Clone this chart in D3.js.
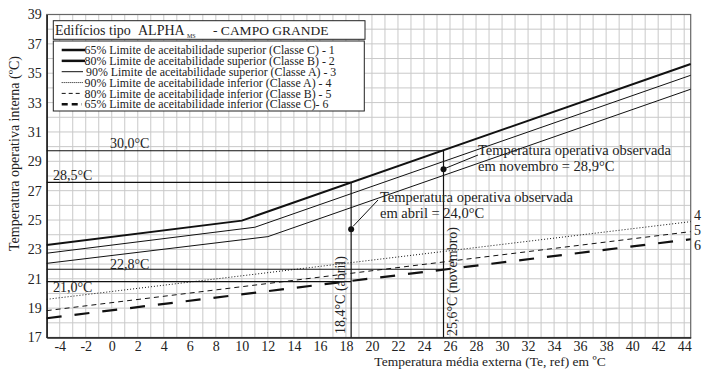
<!DOCTYPE html>
<html>
<head>
<meta charset="utf-8">
<script src="https://cdnjs.cloudflare.com/ajax/libs/d3/7.8.5/d3.min.js"></script>
<style>
  body { margin: 0; background: #fff; }
  text { font-family: "Liberation Serif", "Times New Roman", serif !important; fill: #222; }
</style>
</head>
<body>
<svg id="chart"></svg>
<script>
// Chart size
const width = 703;
const height = 369;

// Axis domains and tick labels
const xDomain = [-5, 44.5];
const yDomain = [17, 39];
const xTicks = d3.range(-4, 45, 2);
const yTicks = d3.range(17, 40, 2);

// Limit lines [Te,ref, temperature]
const sup65 = [[-5, 23.30], [10, 24.96], [44.5, 35.63]];
const sup80 = [[-5, 22.74], [11, 24.51], [44.5, 34.86]];
const sup90 = [[-5, 22.05], [12, 23.87], [44.5, 33.91]];
const inf90 = [[-5, 19.60], [44.5, 24.89]];
const inf80 = [[-5, 18.83], [44.5, 24.21]];
const inf65 = [[-5, 18.31], [44.5, 23.69]];

// Reference lines (as drawn) and their labels
const refTe = [18.4, 25.5];
const refTeLabels = ["18,4°C (abril)", "25,6°C (novembro)"];
const refTop = [29.72, 27.57];      // upper reference temperatures
const refTopLabels = ["30,0°C", "28,5°C"];
const refBottom = [21.65, 20.80];   // lower reference temperatures
const refBottomLabels = ["22,8°C", "21,0°C"];

// Observed operative temperatures
const observed = [[18.4, 24.37], [25.5, 28.46]];

const legendLabels = [
  "65% Limite de aceitabilidade superior (Classe C) - 1",
  "80% Limite de aceitabilidade superior (Classe B) - 2",
  "90% Limite de aceitabilidade superior (Classe A) - 3",
  "90% Limite de aceitabilidade inferior (Classe A) - 4",
  "80% Limite de aceitabilidade inferior (Classe B) - 5",
  "65% Limite de aceitabilidade inferior (Classe C)- 6"
];

const svg = d3.select("#chart")
  .attr("width", width)
  .attr("height", height);

const x = d3.scaleLinear().domain(xDomain).range([46.7, 690.7]);
const y = d3.scaleLinear().domain(yDomain).range([337.5, 14.5]);

// grid every 1 degree
const grid = svg.append("g").attr("stroke", "#c9c9c9").attr("stroke-width", 1);
grid.selectAll("line.v")
  .data(d3.range(-4, 45, 1))
  .enter().append("line")
  .attr("x1", d => x(d)).attr("x2", d => x(d))
  .attr("y1", y(17)).attr("y2", y(39));
grid.selectAll("line.h")
  .data(d3.range(18, 39, 1))
  .enter().append("line")
  .attr("x1", x(-5)).attr("x2", x(44.5))
  .attr("y1", d => y(d)).attr("y2", d => y(d));

// frame
svg.append("rect")
  .attr("x", x(-5)).attr("y", y(39))
  .attr("width", x(44.5) - x(-5)).attr("height", y(17) - y(39))
  .attr("fill", "none").attr("stroke", "#666").attr("stroke-width", 1.2);

// axes (plain hyphen for negatives, as in the original)
const fmt = d => String(d);
svg.append("g")
  .attr("transform", `translate(0,${y(17)})`)
  .call(d3.axisBottom(x).tickValues(xTicks).tickSize(0).tickPadding(4).tickFormat(fmt))
  .call(g => g.select(".domain").attr("stroke", "#222").attr("stroke-width", 1.5))
  .selectAll("text").attr("font-size", 14).attr("fill", "#222");

svg.append("g")
  .attr("transform", `translate(${x(-5)},0)`)
  .call(d3.axisLeft(y).tickValues(yTicks).tickSize(0).tickPadding(5).tickFormat(fmt))
  .call(g => g.select(".domain").attr("stroke", "#222").attr("stroke-width", 1.5))
  .selectAll("text").attr("font-size", 14).attr("fill", "#222");

// axis titles
svg.append("text")
  .attr("transform", `translate(14,153.5) rotate(-90)`)
  .attr("text-anchor", "middle").attr("dy", "0.35em")
  .attr("font-size", 14)
  .text("Temperatura operativa interna (ºC)");

svg.append("text")
  .attr("x", 490).attr("y", 361).attr("dy", "0.35em")
  .attr("text-anchor", "middle").attr("font-size", 13.5)
  .text("Temperatura média externa (Te, ref) em ºC");

// reference lines
const ref = svg.append("g").attr("stroke", "#111").attr("stroke-width", 1.2);
refTop.forEach((t, i) => {
  ref.append("line").attr("x1", x(-5)).attr("x2", x(refTe[1 - i]))
    .attr("y1", y(t)).attr("y2", y(t));
});
refBottom.forEach((t, i) => {
  ref.append("line").attr("x1", x(-5)).attr("x2", x(refTe[1 - i]))
    .attr("y1", y(t)).attr("y2", y(t));
});
refTe.forEach((te, i) => {
  ref.append("line").attr("x1", x(te)).attr("x2", x(te))
    .attr("y1", y(refTop[1 - i])).attr("y2", y(17));
});

// limit lines
const line = d3.line().x(d => x(d[0])).y(d => y(d[1]));
const series = [
  { data: sup65, w: 2, dash: null },
  { data: sup80, w: 1, dash: null },
  { data: sup90, w: 1, dash: null },
  { data: inf90, w: 1, dash: "1,2" },
  { data: inf80, w: 1, dash: "5,4" },
  { data: inf65, w: 2.2, dash: "15,13" }
];
svg.append("g").selectAll("path")
  .data(series)
  .enter().append("path")
  .attr("d", d => line(d.data))
  .attr("fill", "none")
  .attr("stroke", "#111")
  .attr("stroke-width", d => d.w)
  .attr("stroke-dasharray", d => d.dash);

// reference labels
svg.append("text").attr("x", 110).attr("y", 143.3).attr("dy", "0.35em")
  .attr("font-size", 14).text(refTopLabels[0]);
svg.append("text").attr("x", 53).attr("y", 175).attr("dy", "0.35em")
  .attr("font-size", 14).text(refTopLabels[1]);
svg.append("text").attr("x", 110).attr("y", 264.3).attr("dy", "0.35em")
  .attr("font-size", 14).text(refBottomLabels[0]);
svg.append("text").attr("x", 53).attr("y", 287.3).attr("dy", "0.35em")
  .attr("font-size", 14).text(refBottomLabels[1]);

svg.append("text")
  .attr("transform", `translate(${x(refTe[0]) - 11},334) rotate(-90)`)
  .attr("dy", "0.35em").attr("font-size", 14).text(refTeLabels[0]);
svg.append("text")
  .attr("transform", `translate(${x(refTe[1]) + 9},336) rotate(-90)`)
  .attr("dy", "0.35em").attr("font-size", 14).text(refTeLabels[1]);

// observed points with leaders
svg.append("g").selectAll("circle")
  .data(observed)
  .enter().append("circle")
  .attr("cx", d => x(d[0])).attr("cy", d => y(d[1]))
  .attr("r", 3).attr("fill", "#111");

svg.append("line")
  .attr("x1", x(observed[0][0]) + 2).attr("y1", y(observed[0][1]) - 3)
  .attr("x2", 378).attr("y2", 200)
  .attr("stroke", "#111").attr("stroke-width", 1);
svg.append("line")
  .attr("x1", x(observed[1][0]) + 2).attr("y1", y(observed[1][1]) - 1)
  .attr("x2", 478).attr("y2", 155)
  .attr("stroke", "#111").attr("stroke-width", 1);

const ann = [
  { x: 380, y: 196.7, t: "Temperatura operativa observada" },
  { x: 380, y: 213.3, t: "em abril = 24,0°C" },
  { x: 478, y: 150, t: "Temperatura operativa observada" },
  { x: 478, y: 166, t: "em novembro = 28,9°C" }
];
svg.append("g").selectAll("text")
  .data(ann)
  .enter().append("text")
  .attr("x", d => d.x).attr("y", d => d.y).attr("dy", "0.35em")
  .attr("font-size", 14.5)
  .text(d => d.t);

// right-hand line numbers
const rightNums = ["4", "5", "6"];
svg.append("g").selectAll("text")
  .data(rightNums)
  .enter().append("text")
  .attr("x", 694).attr("y", (d, i) => 215 + i * 15).attr("dy", "0.35em")
  .attr("font-size", 14)
  .text(d => d);

// title box
svg.append("rect").attr("x", 53.3).attr("y", 20.7).attr("width", 311.7).attr("height", 18.6)
  .attr("fill", "#fff").attr("stroke", "#222").attr("stroke-width", 1);
const title = svg.append("text").attr("x", 55).attr("y", 30).attr("dy", "0.35em")
  .attr("font-size", 14);
title.append("tspan").text("Edifícios tipo");
title.append("tspan").attr("x", 138).text("ALPHA");
title.append("tspan").attr("x", 187).attr("font-size", 6).attr("dy", 3).text("MS");
title.append("tspan").attr("x", 213).attr("dy", -3).attr("font-size", 13.5).text("- CAMPO GRANDE");

// legend
svg.append("rect").attr("x", 53.3).attr("y", 41).attr("width", 311).attr("height", 70)
  .attr("fill", "#fff").attr("stroke", "#222").attr("stroke-width", 1);
const legendStyle = [
  { w: 2.5, dash: null, x2: 85 },
  { w: 2.5, dash: null, x2: 85 },
  { w: 1, dash: null, x2: 83 },
  { w: 1, dash: "1,1", x2: 83 },
  { w: 1, dash: "4,3", x2: 80 },
  { w: 2.5, dash: "6,4", x2: 82 }
];
const leg = svg.append("g");
legendLabels.forEach((lab, i) => {
  const yy = 50 + i * 10.85;
  leg.append("line").attr("x1", 61.7).attr("x2", legendStyle[i].x2)
    .attr("y1", yy).attr("y2", yy)
    .attr("stroke", "#111").attr("stroke-width", legendStyle[i].w)
    .attr("stroke-dasharray", legendStyle[i].dash);
  leg.append("text").attr("x", i === 2 ? 86 : 84.5).attr("y", yy).attr("dy", "0.35em")
    .attr("font-size", 11.9).text(lab);
});
</script>
</body>
</html>
